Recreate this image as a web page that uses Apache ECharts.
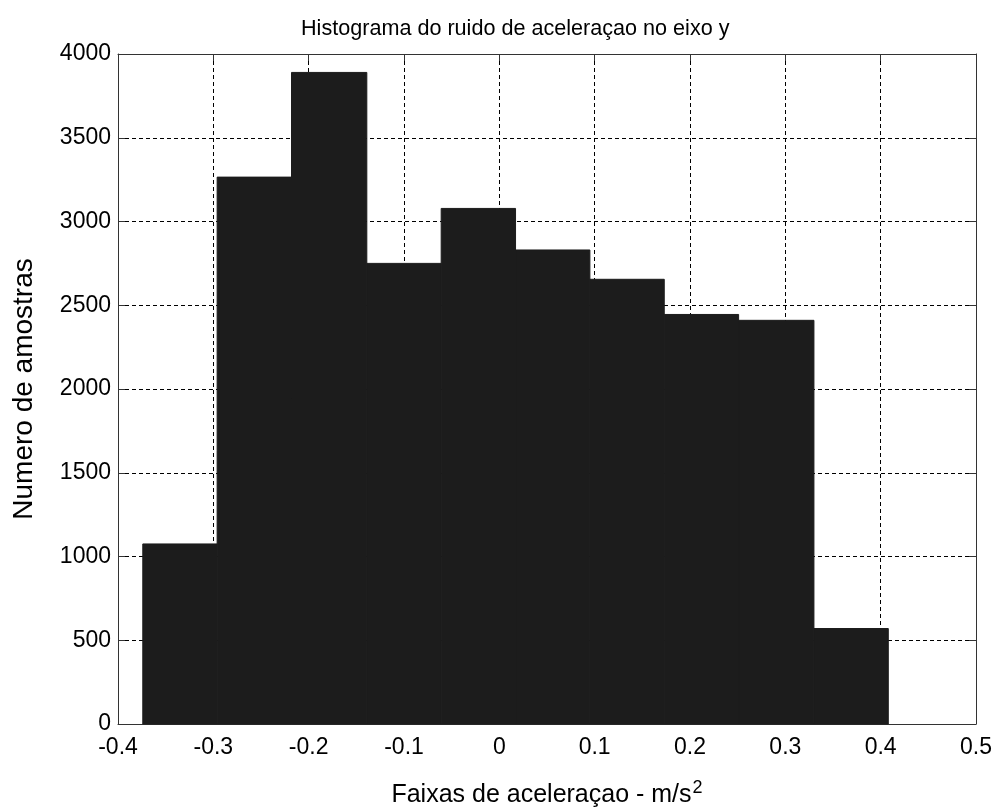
<!DOCTYPE html>
<html>
<head>
<meta charset="utf-8">
<script src="https://cdn.jsdelivr.net/npm/echarts@6/dist/echarts.min.js"></script>
<style>
  html, body { margin: 0; padding: 0; background: #ffffff; }
  #chart { width: 992px; height: 807px; }
</style>
</head>
<body>
<div id="chart"></div>
<script>
// Histogram bin edges (m/s^2) and sample counts per bin
const binEdges = [-0.374, -0.296, -0.218, -0.139, -0.061, 0.017, 0.095, 0.173, 0.251, 0.330, 0.408];
const counts = [1075, 3265, 3890, 2750, 3078, 2830, 2655, 2445, 2410, 570];

// Axis tick settings
const xTicks = { min: -0.4, max: 0.5, interval: 0.1 };
const yTicks = { min: 0, max: 4000, interval: 500 };

const titleText = 'Histograma do ruido de aceleraçao no eixo y';
const xName = 'Faixas de aceleraçao - m/s';
const yName = 'Numero de amostras';

const bins = counts.map((c, i) => [binEdges[i], binEdges[i + 1], c]);

const FONT = '"Liberation Sans", Arial, sans-serif';

const chart = echarts.init(document.getElementById('chart'), null, { renderer: 'canvas' });

const gridLine = { show: true, lineStyle: { color: '#000', width: 1, type: [4, 3] } };
const axisLine = { show: true, onZero: false, lineStyle: { color: '#333', width: 1 } };
const innerTick = { show: true, inside: true, length: 7, lineStyle: { color: '#333' } };

chart.setOption({
  backgroundColor: '#ffffff',
  animation: false,
  title: {
    text: titleText,
    left: 296,
    top: 13,
    textStyle: { fontFamily: FONT, fontSize: 21.6, fontWeight: 'normal', color: '#000' }
  },
  grid: { left: 118, right: 16, top: 54, bottom: 83, containLabel: false, outerBoundsMode: 'none' },
  xAxis: [{
    type: 'value',
    min: xTicks.min, max: xTicks.max, interval: xTicks.interval,
    position: 'bottom',
    name: xName + '{sup|2}',
    nameLocation: 'middle',
    nameGap: 55,
    nameTextStyle: {
      fontFamily: FONT, fontSize: 25, color: '#000',
      rich: { sup: { fontFamily: FONT, fontSize: 18, color: '#000', padding: [0, 0, 15, 1] } }
    },
    axisLine: axisLine,
    axisTick: innerTick,
    axisLabel: {
      fontFamily: FONT, fontSize: 23, color: '#000', margin: 12,
      formatter: v => String(Math.round(v * 10) / 10)
    },
    splitLine: gridLine
  }, {
    type: 'value',
    min: xTicks.min, max: xTicks.max, interval: xTicks.interval,
    position: 'top',
    axisLine: axisLine,
    axisTick: innerTick,
    axisLabel: { show: false },
    splitLine: { show: false }
  }],
  yAxis: [{
    type: 'value',
    min: yTicks.min, max: yTicks.max, interval: yTicks.interval,
    position: 'left',
    name: yName,
    nameLocation: 'middle',
    nameGap: 80,
    nameTextStyle: { fontFamily: FONT, fontSize: 28, color: '#000' },
    axisLine: axisLine,
    axisTick: innerTick,
    axisLabel: {
      fontFamily: FONT, fontSize: 23, color: '#000', margin: 7,
      formatter: v => String(v)
    },
    splitLine: gridLine
  }, {
    type: 'value',
    min: yTicks.min, max: yTicks.max, interval: yTicks.interval,
    position: 'right',
    axisLine: axisLine,
    axisTick: innerTick,
    axisLabel: { show: false },
    splitLine: { show: false }
  }],
  series: [{
    type: 'custom',
    xAxisIndex: 0,
    yAxisIndex: 0,
    data: bins,
    encode: { x: [0, 1], y: 2 },
    renderItem: function (params, api) {
      const topLeft = api.coord([api.value(0), api.value(2)]);
      const bottomRight = api.coord([api.value(1), 0]);
      return {
        type: 'rect',
        shape: {
          x: topLeft[0],
          y: topLeft[1],
          width: bottomRight[0] - topLeft[0],
          height: bottomRight[1] - topLeft[1]
        },
        style: { fill: '#1c1c1c', stroke: '#1c1c1c', lineWidth: 1 }
      };
    }
  }]
});
</script>
</body>
</html>
